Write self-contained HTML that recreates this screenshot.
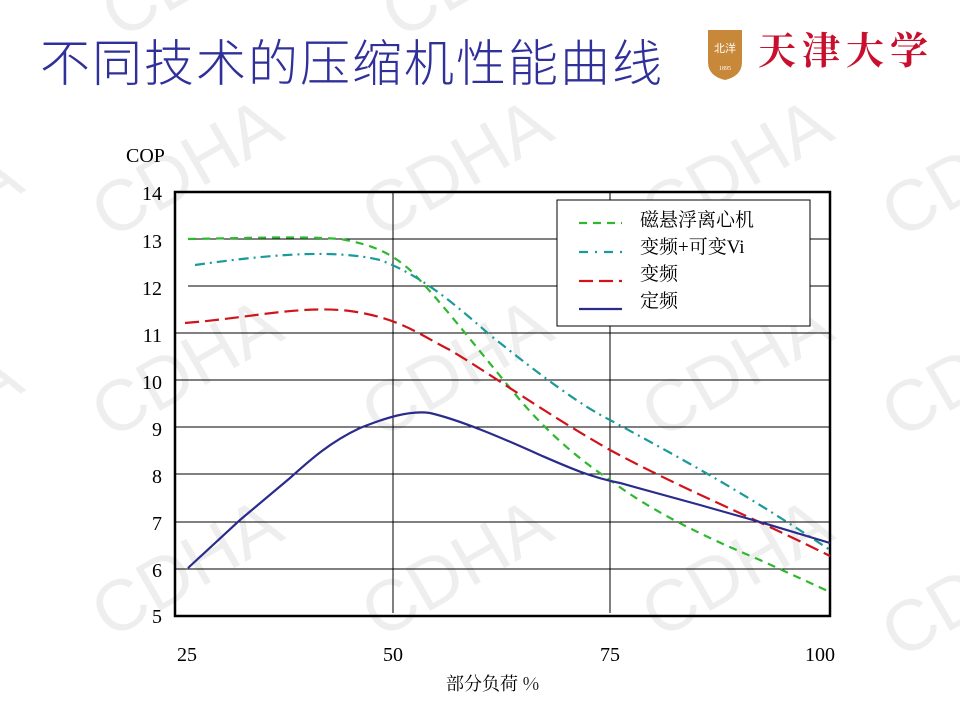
<!DOCTYPE html>
<html><head><meta charset="utf-8"><style>
body{margin:0;width:960px;height:720px;background:#fff;overflow:hidden;position:relative;font-family:"Liberation Serif","Noto Serif CJK SC",serif}
.t{position:absolute;left:40px;top:24px;font:300 50px "Liberation Sans","Noto Sans CJK SC",sans-serif;color:#30309a;letter-spacing:2px;white-space:nowrap}
</style></head><body>
<div class="t">不同技术的压缩机性能曲线</div>
<svg width="960" height="720" style="position:absolute;left:0;top:0">
<g font-family="Liberation Sans,sans-serif" font-size="72" fill="#000" opacity="0.07">
<text transform="translate(110,240) rotate(-30)">CDHA</text>
<text transform="translate(380,240) rotate(-30)">CDHA</text>
<text transform="translate(660,240) rotate(-30)">CDHA</text>
<text transform="translate(110,440) rotate(-30)">CDHA</text>
<text transform="translate(380,440) rotate(-30)">CDHA</text>
<text transform="translate(660,440) rotate(-30)">CDHA</text>
<text transform="translate(110,640) rotate(-30)">CDHA</text>
<text transform="translate(380,640) rotate(-30)">CDHA</text>
<text transform="translate(660,640) rotate(-30)">CDHA</text>
<text transform="translate(900,240) rotate(-30)">CD</text>
<text transform="translate(900,440) rotate(-30)">CD</text>
<text transform="translate(900,660) rotate(-30)">CD</text>
<text transform="translate(-60,240) rotate(-30)">HA</text>
<text transform="translate(-60,440) rotate(-30)">HA</text>
<text transform="translate(120,40) rotate(-30)">CDHA</text>
<text transform="translate(400,40) rotate(-30)">CDHA</text>
</g>
<path d="M708,30 L742,30 L742,62 Q742,76 725,80 Q708,76 708,62 Z" fill="#c8883a"/>
<text x="725" y="52" font-size="11" fill="#fff" text-anchor="middle" font-family="Noto Sans CJK SC,sans-serif">北洋</text>
<text x="725" y="70" font-size="6" fill="#fff" text-anchor="middle">1895</text>
<text x="758" y="64" font-size="38" fill="#c8102e" font-weight="bold" font-family="Noto Serif CJK SC,serif" letter-spacing="6">天津大学</text>
<g stroke="#000" stroke-width="1">
<line x1="188" y1="239" x2="831" y2="239"/><line x1="188" y1="286" x2="831" y2="286"/>
<line x1="176" y1="333" x2="831" y2="333"/><line x1="176" y1="380" x2="831" y2="380"/>
<line x1="176" y1="427" x2="831" y2="427"/><line x1="176" y1="474" x2="831" y2="474"/>
<line x1="176" y1="522" x2="831" y2="522"/><line x1="176" y1="569" x2="831" y2="569"/>
<line x1="393" y1="192" x2="393" y2="613"/><line x1="610" y1="192" x2="610" y2="613"/>
</g>
<rect x="175" y="192" width="655" height="424" fill="none" stroke="#000" stroke-width="2.5"/>
<g font-size="20" fill="#000">
<text x="126" y="162">COP</text>
<g text-anchor="end">
<text x="162" y="200">14</text><text x="162" y="248">13</text><text x="162" y="295">12</text>
<text x="162" y="342">11</text><text x="162" y="389">10</text><text x="162" y="436">9</text>
<text x="162" y="483">8</text><text x="162" y="530">7</text><text x="162" y="577">6</text><text x="162" y="623">5</text>
</g>
<g text-anchor="middle">
<text x="187" y="661">25</text><text x="393" y="661">50</text><text x="610" y="661">75</text><text x="820" y="661">100</text>
</g>
<text x="446" y="690" font-family="Noto Serif CJK SC,serif" font-size="18">部分负荷 %</text>
</g>
<g fill="none" stroke-width="2.2">
<path d="M188,239 C250,238 300,236 340,239 C370,244 390,252 410,270 C440,300 470,340 520,400 C550,435 580,460 610,480 C650,510 700,535 760,560 L830,592" stroke="#2db82d" stroke-dasharray="8,6"/>
<path d="M195,265 C260,256 330,248 380,260 C420,275 450,300 490,335 C540,375 580,405 610,420 C680,458 740,490 830,550" stroke="#1a9a9a" stroke-dasharray="10,5,2,5"/>
<path d="M185,323 C250,318 300,305 350,311 C400,318 420,335 450,350 C500,380 540,410 610,450 C680,488 750,516 830,556" stroke="#d0141c" stroke-dasharray="14,6"/>
<path d="M188,568 L240,520 L290,478 C310,460 330,442 360,428 C385,418 410,410 430,413 C460,420 500,437 540,455 C570,468 590,477 620,483 L700,505 L760,522 L830,543" stroke="#2b2b8c"/>
</g>
<rect x="557" y="200" width="253" height="126" fill="#fff" stroke="#000" stroke-width="1"/>
<g stroke-width="2.2">
<line x1="579" y1="223" x2="622" y2="223" stroke="#2db82d" stroke-dasharray="8,6"/>
<line x1="579" y1="252" x2="622" y2="252" stroke="#1a9a9a" stroke-dasharray="9,7,2,7"/>
<line x1="579" y1="281" x2="622" y2="281" stroke="#d0141c" stroke-dasharray="14,6"/>
<line x1="579" y1="309" x2="622" y2="309" stroke="#2b2b8c"/>
</g>
<g font-size="19" font-family="Liberation Serif,Noto Serif CJK SC,serif">
<text x="640" y="226">磁悬浮离心机</text>
<text x="640" y="253">变频+可变Vi</text>
<text x="640" y="280">变频</text>
<text x="640" y="307">定频</text>
</g>
</svg>
</body></html>
